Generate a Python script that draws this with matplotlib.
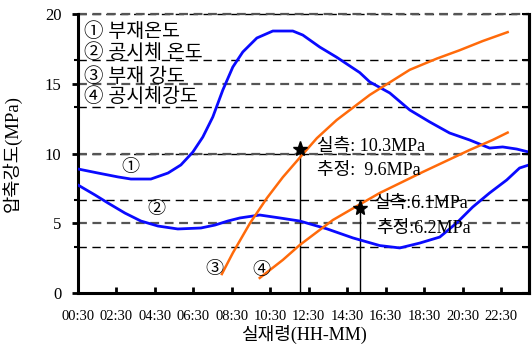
import numpy as np
import matplotlib
matplotlib.use("Agg")
import matplotlib.pyplot as plt

plt.rcParams['font.family'] = ['Liberation Serif', 'Noto Sans CJK KR']
plt.rcParams['axes.unicode_minus'] = False

# elapsed hours since 00:30
tick_hours = [0, 2, 4, 6, 8, 10, 12, 14, 16, 18, 20, 22]
tick_labels = ['00:30', '02:30', '04:30', '06:30', '08:30', '10:30',
               '12:30', '14:30', '16:30', '18:30', '20:30', '22:30']

# (1) member temperature
member_temp_t = [0.0, 1.04, 2.08, 2.75, 3.79, 4.68, 5.35, 5.97, 6.49, 7.01, 7.53,
                 8.05, 8.57, 9.30, 10.13, 11.17, 11.69, 12.57, 13.45, 14.65, 15.17,
                 16.21, 17.25, 18.29, 19.32, 20.36, 21.40, 22.08, 22.81, 23.45]
member_temp = [8.89, 8.60, 8.32, 8.17, 8.17, 8.60, 9.18, 10.1, 11.18, 12.62, 14.55,
               16.2, 17.28, 18.28, 18.78, 18.78, 18.49, 17.63, 16.9, 15.8, 15.13,
               14.34, 13.12, 12.26, 11.47, 10.97, 10.39, 10.47, 10.32, 10.1]

# (2) specimen temperature
specimen_temp_t = [0.0, 0.88, 1.56, 2.44, 3.27, 4.16, 5.19, 6.39, 7.12, 7.79, 8.42,
                   9.45, 10.49, 11.53, 12.94, 14.29, 15.69, 16.73, 17.77, 18.81,
                   19.69, 20.52, 21.40, 22.29, 22.96, 23.45]
specimen_temp = [7.74, 7.03, 6.45, 5.73, 5.16, 4.80, 4.59, 4.66, 4.87, 5.16, 5.38,
                 5.59, 5.38, 5.16, 4.60, 3.95, 3.40, 3.23, 3.58, 4.01,
                 5.02, 6.16, 7.17, 8.10, 8.96, 9.18]

# (3) member strength
member_str_t = [7.48, 8.05, 8.94, 9.82, 10.65, 11.53, 12.42, 13.45, 15.17, 16.21,
                17.25, 18.65, 19.84, 21.04, 22.34]
member_str = [1.36, 2.87, 5.0, 6.8, 8.3, 9.7, 11.1, 12.4, 14.2, 15.1,
              16.0, 16.8, 17.4, 18.06, 18.7]

# (4) specimen strength
specimen_str_t = [9.45, 10.65, 11.53, 13.25, 14.65, 15.69, 17.92, 20.36, 21.56, 22.34]
specimen_str = [1.08, 2.37, 3.44, 5.23, 6.35, 7.17, 8.67, 10.25, 10.97, 11.5]

# measured points
measured_t = [11.55, 14.67]
measured_val = [10.3, 6.1]
estimated_val = [9.6, 6.2]

legend_items = ['① 부재온도', '② 공시체 온도', '③ 부재 강도', '④ 공시체강도']

blue = '#0a0aff'
orange = '#ff6a0a'

fig = plt.figure(figsize=(5.32, 3.45), dpi=100)
ax = fig.add_axes([78 / 532, 52 / 345, 451 / 532, 279 / 345])
ax.set_xlim(0, 23.45)
ax.set_ylim(0, 20)

# dashed guide lines for both axes
for y in [10 / 3, 20 / 3, 10, 40 / 3, 50 / 3, 20]:
    ax.axhline(y, color='black', lw=1.0, ls=(0, (6, 4)), zorder=1, clip_on=False)
for y in [5, 10, 15, 20]:
    ax.axhline(y, color='#555555', lw=1.6, ls=(0, (4, 2.5)), zorder=1, clip_on=False)

ax.plot(member_temp_t, member_temp, color=blue, lw=2.0, zorder=3)
ax.plot(specimen_temp_t, specimen_temp, color=blue, lw=2.0, zorder=3)
ax.plot(member_str_t, member_str, color=orange, lw=1.8, zorder=3)
ax.plot(specimen_str_t, specimen_str, color=orange, lw=1.8, zorder=3)

ax.vlines(measured_t, 0, measured_val, color='black', lw=1.0, zorder=2)
ax.plot(measured_t, measured_val, ls='none', marker='*', ms=11, color='black', zorder=4)

ax.text(12.45, 10.5, f'실측: {measured_val[0]}MPa', fontsize=13, va='center')
ax.text(12.45, 8.8, f'추정:  {estimated_val[0]}MPa', fontsize=13, va='center')
ax.text(15.35, 6.45, f'실측:{measured_val[1]}MPa', fontsize=13, va='center')
ax.text(15.5, 4.6, f'추정:{estimated_val[1]}MPa', fontsize=13, va='center')

# curve markers
ax.text(2.7, 9.0, '①', fontsize=13, ha='center', va='center')
ax.text(4.1, 5.95, '②', fontsize=13, ha='center', va='center')
ax.text(7.07, 1.72, '③', fontsize=13, ha='center', va='center')
ax.text(9.56, 1.58, '④', fontsize=13, ha='center', va='center')

for label, y in zip(legend_items, [18.71, 17.2, 15.48, 14.05]):
    ax.text(0.3, y, label, fontsize=14, va='center')

for side in ['left', 'bottom', 'right']:
    ax.spines[side].set_linewidth(2.2)
ax.spines['top'].set_visible(False)

ax.set_xticks(tick_hours)
ax.set_xticklabels(tick_labels)
ax.tick_params(axis='x', direction='in', length=4, width=2, labelsize=10.5, pad=12)
ax.set_yticks([0, 5, 10, 15, 20])
ax.set_yticks([10 / 3, 20 / 3, 40 / 3, 50 / 3], minor=True)
ax.tick_params(axis='y', which='major', direction='out', length=4, width=2,
               labelsize=12, pad=8)
ax.tick_params(axis='y', which='minor', direction='out', length=3, width=1.5)

ax.set_xlabel('실재령(HH-MM)', fontsize=13)
ax.xaxis.set_label_coords(0.5, -0.115)
ax.set_ylabel('압축강도(MPa)', fontsize=13.5)
ax.yaxis.set_label_coords(-0.125, 0.5)

# right-hand temperature scale, ticks only
ax2 = ax.twinx()
ax2.set_ylim(0, 60)
ax2.set_yticks(np.arange(0, 61, 10))
ax2.set_yticklabels([])
ax2.tick_params(axis='y', direction='in', length=5, width=1.5)
ax2.spines['right'].set_linewidth(2.2)
for side in ['left', 'top', 'bottom']:
    ax2.spines[side].set_visible(False)

fig.savefig('out.png', dpi=100)
